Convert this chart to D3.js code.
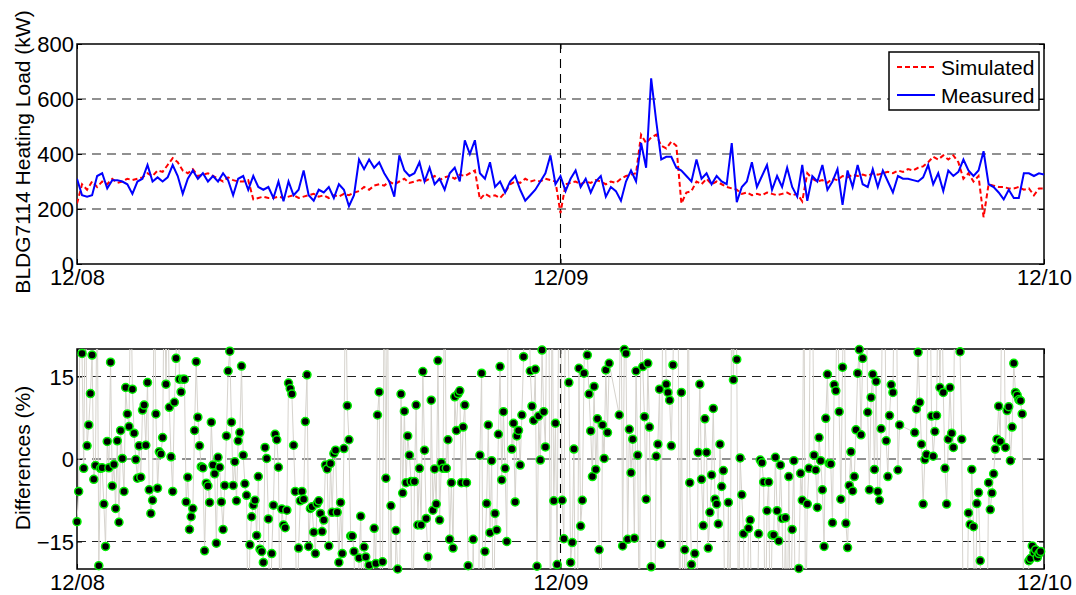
<!DOCTYPE html>
<html>
<head>
<meta charset="utf-8">
<script src="https://cdn.jsdelivr.net/npm/d3@7"></script>
<style>
  body { margin: 0; background: #fff; }
  svg { display: block; font-family: "Liberation Sans", Arial, sans-serif; }
</style>
</head>
<body>
<div id="chart"></div>
<script>
var width = 1076;
var height = 595;
var fontFamily = "'Liberation Sans', Arial, sans-serif";

// tick labels
var dayTicks = ["12/08", "12/09", "12/10"];
var loadTicks = [0, 200, 400, 600, 800];
var diffTicks = [-15, 0, 15];
var seriesNames = ["Simulated", "Measured"];

// heating load, kW, one value every 15 minutes
var simulated = [
  220, 290, 270, 300, 280, 300, 290, 310, 295, 300,
  310, 305, 310, 315, 330, 320, 340, 335, 360, 385,
  370, 340, 330, 345, 320, 325, 330, 320, 310, 300,
  315, 305, 300, 300, 305, 235, 240, 245, 240, 240,
  245, 240, 245, 250, 240, 245, 250, 255, 245, 250,
  240, 250, 245, 255, 250, 260, 265, 280, 270, 285,
  290, 285, 300, 290, 300, 310, 295, 300, 305, 300,
  310, 320, 305, 315, 320, 310, 325, 320, 330, 340,
  235, 255, 245, 250, 240, 260, 290, 300, 295, 310,
  300, 305, 300, 310, 305, 300, 185, 290, 295, 300,
  290, 300, 295, 305, 300, 290, 300, 295, 310, 320,
  325, 330, 470, 440, 460, 470, 430, 420, 445, 430,
  220, 260, 265, 300, 290, 310, 290, 300, 290, 280,
  275, 270, 255, 260, 250, 255, 250, 260, 255, 250,
  255, 260, 250, 255, 228, 330, 310, 300, 305, 295,
  310, 305, 320, 315, 325, 320, 325, 320, 330, 325,
  330, 335, 330, 340, 335, 345, 340, 350, 355, 370,
  390, 380, 395, 380, 395, 370, 310, 330, 300, 320,
  170, 290, 285, 280, 280, 275, 275, 280, 270, 275,
  250, 275, 275
];

var measured = [
  310, 250, 245, 250, 320, 330, 275, 305, 305, 300,
  290, 255, 300, 310, 360, 300, 315, 300, 315, 360,
  320, 255, 310, 340, 310, 330, 300, 320, 300, 330,
  305, 250, 310, 320, 270, 320, 280, 270, 280, 240,
  300, 228, 300, 250, 270, 340, 250, 230, 270, 260,
  280, 240, 290, 270, 210, 250, 380, 345, 380, 350,
  370, 330, 300, 245, 395, 340, 320, 330, 370, 300,
  350, 290, 310, 270, 330, 350, 300, 450, 400, 450,
  330, 310, 370, 280, 300, 260, 300, 320, 270, 230,
  250, 270, 300, 330, 395, 290, 320, 265, 310, 340,
  280, 310, 260, 300, 320, 245, 280, 265, 230, 300,
  340, 300, 440, 350, 675, 520, 380, 390, 390, 350,
  340, 320, 300, 380, 310, 330, 290, 320, 300, 290,
  440, 225, 280, 300, 370, 280, 320, 360, 270, 320,
  280, 350, 280, 245, 360, 230, 320, 300, 360, 270,
  300, 345, 215, 340, 280, 360, 290, 280, 345, 280,
  340, 300, 260, 320, 310, 310, 305, 300, 315, 360,
  290, 330, 265, 340, 320, 335, 380, 340, 320, 340,
  410, 290, 280, 260, 235, 270, 240, 240, 330, 330,
  320, 330, 325
];

// differences, %, one value every 5 minutes (null = no sample)
var differences = [
  -11.4, -5.9, 35, 19.2, -1.7, 35, 2.4, 6.2, 11.9, 18.9,
  -3.7, -1.2, 35, -19.4, -1.7, -1.6, -8.2, -15.9, 3.2, -1.6,
  17.6, -4.9, -1, -9, 3.3, -11.5, 5.2, 0.1, -5.9, 13,
  8.2, 5.9, 35, 12.7, 4.7, -0.1, -3.5, 2.4, -3.3, 8.9,
  9.8, 2.5, 13.9, -5.6, -9.9, -7.5, 35, 8.2, -5.3, 1.3,
  0.9, 3.9, 35, 13.6, 35, 9.4, 0.4, -5.9, 10.3, 18.3,
  35, 14.5, 12.2, 14.5, 14.5, -7.8, -3.3, -12.8, -10.5, -9,
  5.2, 17.7, 7.6, 2.4, -1.4, -1.6, -16.7, -4.4, -4.9, -7.9,
  6.7, -1.1, -2.7, -15.3, 0.3, -1.5, -7.8, -12.8, -4.8, 4.2,
  16, 19.6, 6.7, -4.8, -0.5, -7.6, 3.3, 4.8, 16.9, 0.7,
  -4.5, -6.6, -35, -15.6, -10.5, -8.4, -7.5, -13.9, -3.2, -16.4,
  -16.8, -18.8, 2.1, 0.1, -10.9, -35, -17.2, -8.4, 4.5, 3.5,
  -1.5, -35, -9.1, -12, -12.5, -9.3, 13.8, 12.8, 11.8, 2.5,
  -5.9, -35, -16.2, -7.6, -5.9, -7.3, 6.8, 15.3, -15.9, -9,
  -8.7, -13.3, -17.2, -8.1, -7.6, -9.9, -13.2, -11.1, -1.1, -1.8,
  -15.8, -0.8, -9.7, 1, 1.6, -9.7, -18.8, -7.9, -17.2, 1.9,
  35, 9.7, 3.5, -14, -14, -16.8,
  -35, -35, -18, -10.4, -35, -16, -17.8, -35, -19.3, -35,
  -35, -12.6, -19, 8, 12.2, -35, -18.7, 35, -3.5, 35,
  -35, -8.5, -35, -35, -13, -20, -35, 11.8, -6.2, 8.7,
  -4.3, 4.2, 0.7, -4.1, -35, -4.1, 9.8, -12, -1.7, -12,
  15.9, 1.6, -10.8, -17.8, -35, 10.7, -9.3, -1.8, -8.2, 17.9,
  -11.1, -0.7, -1.7, 35, -1.7, 3.5, -14.6, -4.3, -16.2, 11.3,
  5.2, 11.9, 12.4, -4.3, 5.8, 9.8, -4.3, -19.4, -35, -35,
  -14.6, -35, -35, -35, 0.7, 15.6, -35, -16.8, -8.1, 6.2,
  -13.4, -0.3, -35, -9.9, -12.9, 4.5, 16.8, -3.8, 8.6, -1.7,
  -15, 35, 35, 1.8, 6.5, -7.8, 4.2, 5.2, -1.1, 8,
  18.6, 35, 35, 35, 16, 9.6, 7, 16.3, -19.5, 7.8,
  -0.2, 19.8, 8.6, 2.2, 35, 35, -35, 35, -7.6, 6.5,
  -19.2,
  35, 35, -7.5, -14.5, 35, 35, 13.9, -18.8, -15.2, 1.8,
  -35, -35, 16.5, -12.2, -7.5, 15.6, 35, 18.9, 11.8, 5.1,
  -3.2, 13.2, -1.9, 7.3, -16.5, -35, 6.2, 0.1, 16.2, 4.8,
  17.4, null, null, null, null, null, 8, 35, -15.8, 19.9,
  19.2, -14.6, 5.4, -2.5, 3.6, -14.4, 16, 0.7, -35, 35,
  16.8, 7.7, -7.3, 17.4, 5.8, -19.6, -35, -35, 0.5, 2.7,
  12.7, -15.5, 35, 35, 13.6, 12.1, 10.7, 2.4, 17.1, 35,
  35, 35, -35, 12.1, -35, -16.5, -35, 35, -4.3, -19.2,
  -35, -17.2, -35, 1.2,
  13.6, -3.7, -12.1, 7.3, 1.2, -16.2, -9.7, -2.9, 9.2, -7.3,
  -8.2, -11.8, 2.7, -5, -2.1, -35, -35, -7.9, -35, 35,
  14.4, 35, 18.1, -35, 0.2, -6.5, -13.6, -35, -35, -12.6,
  -11.1, -35, -35, -35, -35, -13.6, -0.2, -0.7, -4.2, -35,
  -9.4, -4.2, -35, -13.8, -13.8, 0.3, -9.4, -14.9, -1.1, -10.8,
  -35, -10.7, -35, -3.2, -35, -12.8, -0.3, -35, -35, -19.9,
  -2.6, -7.5, 35, -35, -8.2, -1.7, 35, 35, 0.7, -2,
  -8.8, 3.9, -0.3, -5.6, -15.9, 7.4, 15.4, -0.8, -0.9, -11.6,
  13.5, 12.4, 35, 8.6, -7.3, 16.7, 35, -11.7, -16.1, -4.8,
  1.3, -5.8, -3.2, 5.3, 15.6, 19.9, 4.4, 18.3, 35, 35,
  8.5, -5.6, 11.2, 15.4, -1.9, 14.1, -5.9, -7.5, 5.5, 35,
  35, 3.3, -3.2, 7.9, 13.5, 12.1, 35, 35, -2, 6.2,
  null, null, null, null, null, null, null, null, 4.8, 9.1,
  19.4, 10.3, 2.7, -8.2, -0.1, 0.8, 35, 35, 7.8, 0.5,
  5, 7.9, 35, 13, 35, 12.1, -1.7, -8.2, 3.6, 13,
  4.7, 2.1, 35, 35, 35, 19.5, 3.6, -35, -35, -35,
  -9.8, -11.9, -1.9, -12.3, -35, -8.1, -6.1, -18.5, -35, -35,
  -35, -35, -4.3, -9.2, -6.2, -2.7, 1.8, 3.6, 9.6, 3.2,
  35, 35, 2.1, 8.8, 9.5, -0.3, 5.8, 17.4, 12.1, 11.6,
  10.8, 10.6, 8.2, -35, -35, -35, -18.5, -18.1, -15.8, -17,
  -16.5, -17.9, -17.2, -16.8
];

var parseDay = d3.timeParse("%m/%d");
var days = dayTicks.map(parseDay);
var left = 77;
var right = 1044;

var xScale = d3.scaleTime().domain([days[0], days[2]]).range([left, right]);

function timeAt(i, step) {
  return d3.timeMinute.offset(days[0], i * step);
}

var svg = d3
  .select("#chart")
  .append("svg")
  .attr("width", width)
  .attr("height", height);

function drawFrame(g, yScale, top, bottom, yTicks, gridValues, label, labelY) {
  // dashed grid
  g.selectAll(".hgrid")
    .data(gridValues)
    .enter()
    .append("line")
    .attr("x1", left)
    .attr("x2", right)
    .attr("y1", function (d) { return yScale(d); })
    .attr("y2", function (d) { return yScale(d); })
    .attr("stroke", "#222")
    .attr("stroke-width", 1.1)
    .attr("stroke-dasharray", "9,6");

  g.append("line")
    .attr("x1", xScale(days[1]))
    .attr("x2", xScale(days[1]))
    .attr("y1", top)
    .attr("y2", bottom)
    .attr("stroke", "#000")
    .attr("stroke-width", 1.1)
    .attr("stroke-dasharray", "9,6");

  var yAxis = d3.axisLeft(yScale).tickValues(yTicks).tickSizeInner(-5).tickSizeOuter(0).tickPadding(3);
  var yAxisR = d3.axisRight(yScale).tickValues(yTicks).tickSizeInner(-5).tickSizeOuter(0).tickFormat("");
  var xAxis = d3.axisBottom(xScale).tickValues(days).tickSizeInner(-5).tickSizeOuter(0)
    .tickPadding(5).tickFormat(d3.timeFormat("%m/%d"));
  var xAxisT = d3.axisTop(xScale).tickValues(days).tickSizeInner(-5).tickSizeOuter(0).tickFormat("");

  var ga = g.append("g").attr("transform", "translate(" + left + ",0)").call(yAxis);
  ga.selectAll("text")
    .attr("font-size", "22px")
    .attr("font-family", fontFamily)
    .attr("fill", "#000")
    .attr("dy", "0.36em");
  g.append("g").attr("transform", "translate(" + right + ",0)").call(yAxisR);
  var gx = g.append("g").attr("transform", "translate(0," + bottom + ")").call(xAxis);
  gx.selectAll("text")
    .attr("font-size", "22px")
    .attr("font-family", fontFamily)
    .attr("fill", "#000");
  g.append("g").attr("transform", "translate(0," + top + ")").call(xAxisT);
  g.selectAll(".domain").remove();
  g.selectAll(".tick line").attr("stroke", "#000");

  g.append("rect")
    .attr("x", left)
    .attr("y", top)
    .attr("width", right - left)
    .attr("height", bottom - top)
    .attr("fill", "none")
    .attr("stroke", "#000")
    .attr("stroke-width", 1.5);

  g.append("text")
    .attr("transform", "translate(30," + labelY + ") rotate(-90)")
    .attr("text-anchor", "middle")
    .attr("font-size", "21px")
    .attr("font-family", fontFamily)
    .text(label);
}

// ---------- top panel ----------
var top1 = 44, bottom1 = 264;
var yLoad = d3.scaleLinear().domain([0, 800]).range([bottom1, top1]);
var g1 = svg.append("g");

svg.append("clipPath").attr("id", "clip1").append("rect")
  .attr("x", left).attr("y", top1).attr("width", right - left).attr("height", bottom1 - top1);

drawFrame(g1, yLoad, top1, bottom1, loadTicks, [200, 400, 600], "BLDG7114 Heating Load (kW)", 152);

var loadLine = d3.line()
  .x(function (d, i) { return xScale(timeAt(i, 15)); })
  .y(function (d) { return yLoad(d); });

var data1 = g1.append("g").attr("clip-path", "url(#clip1)");
data1.append("path")
  .datum(simulated)
  .attr("d", loadLine)
  .attr("fill", "none")
  .attr("stroke", "#ff0000")
  .attr("stroke-width", 2)
  .attr("stroke-dasharray", "5,3");
data1.append("path")
  .datum(measured)
  .attr("d", loadLine)
  .attr("fill", "none")
  .attr("stroke", "#0000ff")
  .attr("stroke-width", 2);

// legend
var legend = g1.append("g").attr("transform", "translate(889,52)");
legend.append("rect")
  .attr("width", 150)
  .attr("height", 58)
  .attr("fill", "#fff")
  .attr("stroke", "#000")
  .attr("stroke-width", 1.5);
var legendStyles = [
  { color: "#ff0000", dash: "5,3" },
  { color: "#0000ff", dash: null }
];
seriesNames.forEach(function (name, i) {
  var yy = 15 + i * 28;
  legend.append("line")
    .attr("x1", 8).attr("x2", 46)
    .attr("y1", yy).attr("y2", yy)
    .attr("stroke", legendStyles[i].color)
    .attr("stroke-width", 2)
    .attr("stroke-dasharray", legendStyles[i].dash);
  legend.append("text")
    .attr("x", 52)
    .attr("y", yy)
    .attr("dy", "0.36em")
    .attr("font-size", "21px")
    .attr("font-family", fontFamily)
    .text(name);
});

// ---------- bottom panel ----------
var top2 = 349, bottom2 = 569;
var yDiff = d3.scaleLinear().domain([-20, 20]).range([bottom2, top2]);
var g2 = svg.append("g");

svg.append("clipPath").attr("id", "clip2").append("rect")
  .attr("x", left).attr("y", top2).attr("width", right - left).attr("height", bottom2 - top2);

drawFrame(g2, yDiff, top2, bottom2, diffTicks, diffTicks, "Differences (%)", 458);

var diffPoints = [];
differences.forEach(function (v, i) {
  if (v !== null) diffPoints.push({ t: timeAt(i, 5), v: v });
});

var diffLine = d3.line()
  .x(function (d) { return xScale(d.t); })
  .y(function (d) { return yDiff(d.v); });

g2.append("g").attr("clip-path", "url(#clip2)")
  .append("path")
  .datum(diffPoints)
  .attr("d", diffLine)
  .attr("fill", "none")
  .attr("stroke", "#d6d3cd")
  .attr("stroke-width", 1);

g2.append("g")
  .selectAll("circle")
  .data(diffPoints.filter(function (d) { return Math.abs(d.v) <= 20.3; }))
  .enter()
  .append("circle")
  .attr("cx", function (d) { return xScale(d.t); })
  .attr("cy", function (d) { return yDiff(d.v); })
  .attr("r", 4)
  .attr("fill", "#000")
  .attr("stroke", "#00ee00")
  .attr("stroke-width", 1.5);
</script>
</body>
</html>
